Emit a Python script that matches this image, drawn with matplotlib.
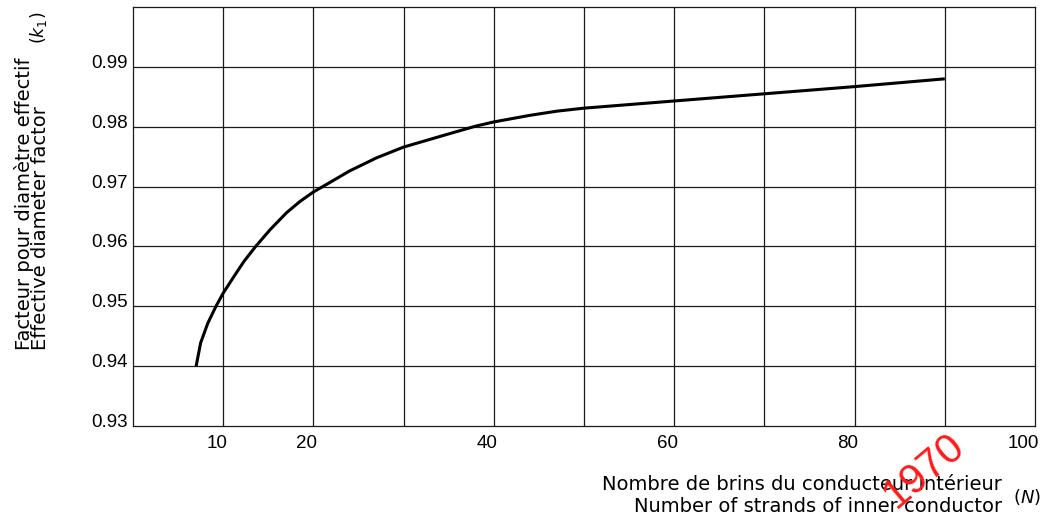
import numpy as np
import matplotlib
matplotlib.use("Agg")
import matplotlib.pyplot as plt
from matplotlib.transforms import ScaledTranslation

# ---- data ----
n_strands = [7, 7.5, 8.3, 9.2, 10, 11.2, 12.3, 13.6, 15.2, 17, 18.5, 20, 21.5,
             24, 27, 30, 35, 38, 40, 44, 47, 50, 55, 60, 70, 80, 90]
k1_factor = [0.9400, 0.9439, 0.9472, 0.9500, 0.9522, 0.9550, 0.9575, 0.9600,
             0.9628, 0.9656, 0.9675, 0.9691, 0.9704, 0.9726, 0.9748, 0.9766,
             0.9788, 0.9801, 0.9808, 0.9819, 0.9826, 0.9831, 0.9837, 0.9843,
             0.9855, 0.9867, 0.9880]

x_tick_values = [10, 20, 40, 60, 80, 100]
x_tick_labels = ["10", "20", "40", "60", "80", "100"]
x_grid_values = [10, 20, 30, 40, 50, 60, 70, 80, 90]
y_tick_values = [0.93, 0.94, 0.95, 0.96, 0.97, 0.98, 0.99]
y_tick_labels = ["0.93", "0.94", "0.95", "0.96", "0.97", "0.98", "0.99"]
y_grid_values = [0.94, 0.95, 0.96, 0.97, 0.98, 0.99]

ylabel_fr = "Facteur pour diamètre effectif"
ylabel_en = "Effective diameter factor"
xlabel_fr = "Nombre de brins du conducteur intérieur"
xlabel_en = "Number of strands of inner conductor"

W, H = 1050, 521
DPI = 100
fig = plt.figure(figsize=(W / DPI, H / DPI), dpi=DPI)
fig.patch.set_facecolor("white")

def fx(px):
    return px / W

def fy(py):
    return 1 - py / H

left, right, top, bottom = 133, 1035, 7, 426
ax = fig.add_axes([fx(left), fy(bottom), fx(right - left), (bottom - top) / H])

ax.set_xlim(0, 100)
ax.set_ylim(0.93, 1.00)

gridc = "#1a1a1a"
for v in x_grid_values:
    ax.axvline(v, color=gridc, lw=0.9, zorder=1)
for v in y_grid_values:
    ax.axhline(v, color=gridc, lw=0.9, zorder=1)
for s in ax.spines.values():
    s.set_color(gridc)
    s.set_linewidth(0.9)

ax.plot(n_strands, k1_factor, color="black", lw=2.2, solid_capstyle="butt",
        solid_joinstyle="round", zorder=3)

tickfont = dict(family="Liberation Sans", size=13.5)
ax.set_xticks(x_tick_values)
ax.set_xticklabels(x_tick_labels, **tickfont)
ax.set_yticks(y_tick_values)
ax.set_yticklabels(y_tick_labels, **tickfont)
ax.tick_params(axis="both", length=0)
ax.tick_params(axis="x", pad=6.5)
ax.tick_params(axis="y", pad=3.6)

xoff = ScaledTranslation(4 / DPI, 0, fig.dpi_scale_trans)
for lab in ax.get_xticklabels():
    lab.set_ha("right")
    lab.set_transform(lab.get_transform() + xoff)
yoff = ScaledTranslation(0, -1 / DPI, fig.dpi_scale_trans)
for lab in ax.get_yticklabels():
    lab.set_va("baseline")
    lab.set_transform(lab.get_transform() + yoff)

labfont = dict(family="DejaVu Sans", size=14, color="black")
# y-axis title (two lines, rotated), anchored on baseline of the last line
fig.text(fx(49), fy(350), ylabel_fr + "\n" + ylabel_en, rotation=90,
         rotation_mode="anchor", ha="left", va="baseline",
         multialignment="left", linespacing=0.77, **labfont)
fig.text(fx(44), fy(44), r"$(k_1)$", rotation=90, rotation_mode="anchor",
         ha="left", va="baseline", family="DejaVu Sans", size=12.5)

# x-axis title (two lines, right aligned)
fig.text(fx(1002), fy(512), xlabel_fr + "\n" + xlabel_en, ha="right",
         va="baseline", multialignment="right", linespacing=1.21, **labfont)
fig.text(fx(1013), fy(503), r"$(N)$", ha="left", va="baseline",
         family="DejaVu Sans", size=13)

# red stamp text
fig.text(fx(924), fy(471), "1970", rotation=40, ha="center", va="center",
         family="Liberation Sans", size=30, color="#ff1a1a", zorder=10)

fig.savefig("out.png", dpi=DPI, facecolor="white")
